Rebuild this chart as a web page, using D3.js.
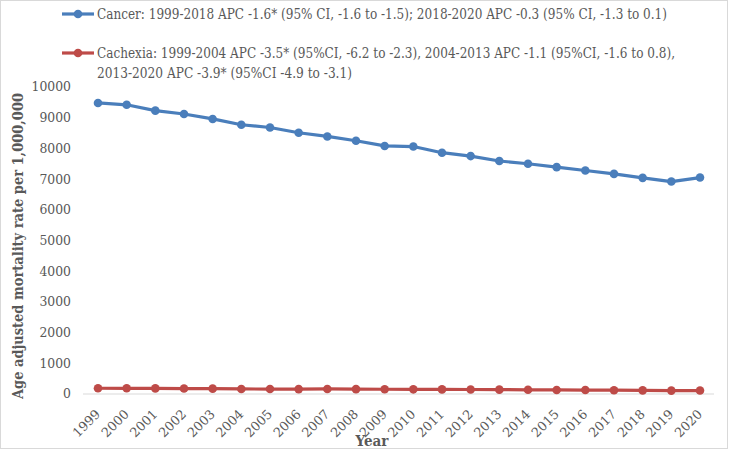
<!DOCTYPE html>
<html><head><meta charset="utf-8">
<script src="https://cdn.jsdelivr.net/npm/d3@7"></script>
<style>body{margin:0;background:#fff}svg{display:block}</style>
</head><body>
<script>
const years = [1999,2000,2001,2002,2003,2004,2005,2006,2007,2008,2009,2010,2011,2012,2013,2014,2015,2016,2017,2018,2019,2020];
const cancer = [9480,9420,9230,9120,8960,8770,8680,8510,8390,8250,8080,8060,7860,7750,7590,7500,7390,7280,7170,7040,6920,7050];
const cachexia = [188,186,182,178,174,164,162,160,164,158,154,152,150,146,142,136,132,128,124,118,110,112];
const yTicks = [0,1000,2000,3000,4000,5000,6000,7000,8000,9000,10000];
const legendLabels = [
  ["Cancer: 1999-2018 APC -1.6* (95% CI, -1.6 to -1.5); 2018-2020 APC -0.3 (95% CI, -1.3 to 0.1)"],
  ["Cachexia: 1999-2004 APC -3.5* (95%CI, -6.2 to -2.3), 2004-2013 APC -1.1 (95%CI, -1.6 to 0.8),", "2013-2020 APC -3.9* (95%CI -4.9 to -3.1)"]
];
const colors = ["#4a7ebb", "#be4b48"];

const W = 730, H = 451;
const svg = d3.select("body").append("svg").attr("width", W).attr("height", H);
svg.append("rect").attr("x",0.5).attr("y",0.5).attr("width",W-3).attr("height",H-3)
  .attr("fill","#fff").attr("stroke","#d9d9d9");

const x = d3.scalePoint().domain(years).range([98, 700]);
const y = d3.scaleLinear().domain([0, 10000]).range([394, 87]);

const serif = "'DejaVu Serif', serif";

// axis line
svg.append("line").attr("x1",83).attr("x2",714).attr("y1",y(0)).attr("y2",y(0))
  .attr("stroke","#d9d9d9").attr("stroke-width",1);

// y tick labels
svg.append("g").selectAll("text").data(yTicks).join("text")
  .attr("x",71).attr("y",d=>y(d)).attr("dy","0.36em").attr("text-anchor","end")
  .attr("font-family",serif).attr("font-size",12.4).attr("fill","#595959")
  .text(d=>d);

// x tick labels rotated
svg.append("g").selectAll("text").data(years).join("text")
  .attr("transform",d=>`translate(${x(d)+3},${y(0)+21}) rotate(-45)`)
  .attr("text-anchor","end")
  .attr("font-family",serif).attr("font-size",12.8).attr("fill","#595959")
  .text(d=>d);

// axis titles
svg.append("text").attr("x",372).attr("y",446).attr("text-anchor","middle")
  .attr("font-family","'DejaVu Serif Condensed','DejaVu Serif', serif").attr("font-weight","bold")
  .attr("font-size",15).attr("fill","#595959").text("Year");
svg.append("text").attr("transform","translate(23,246) rotate(-90)").attr("text-anchor","middle")
  .attr("font-family",serif).attr("font-weight","bold")
  .attr("font-size",15).attr("fill","#595959").attr("textLength",306).attr("lengthAdjust","spacingAndGlyphs")
  .text("Age adjusted mortality rate per 1,000,000");

// series
const series = [cancer, cachexia];
const line = d3.line().x((d,i)=>x(years[i])).y(d=>y(d));
series.forEach((s,k)=>{
  svg.append("path").datum(s).attr("d",line).attr("fill","none")
    .attr("stroke",colors[k]).attr("stroke-width",3.2).attr("stroke-linejoin","round");
  svg.append("g").selectAll("circle").data(s).join("circle")
    .attr("cx",(d,i)=>x(years[i])).attr("cy",d=>y(d)).attr("r",4.3).attr("fill",colors[k]);
});

// legend
const legY = [14, 53];
const legWidths = [[570],[578,255]];
legendLabels.forEach((lines,k)=>{
  const g = svg.append("g");
  g.append("line").attr("x1",62).attr("x2",94).attr("y1",legY[k]).attr("y2",legY[k])
    .attr("stroke",colors[k]).attr("stroke-width",3.2);
  g.append("circle").attr("cx",78).attr("cy",legY[k]).attr("r",4.3).attr("fill",colors[k]);
  lines.forEach((t,j)=>{
    g.append("text").attr("x",97).attr("y",legY[k]+j*19.5).attr("dy","0.36em")
      .attr("font-family","'DejaVu Serif Condensed','DejaVu Serif', serif").attr("font-size",14)
      .attr("fill","#595959").attr("textLength",legWidths[k][j]).attr("lengthAdjust","spacingAndGlyphs")
      .text(t);
  });
});
</script>
</body></html>
